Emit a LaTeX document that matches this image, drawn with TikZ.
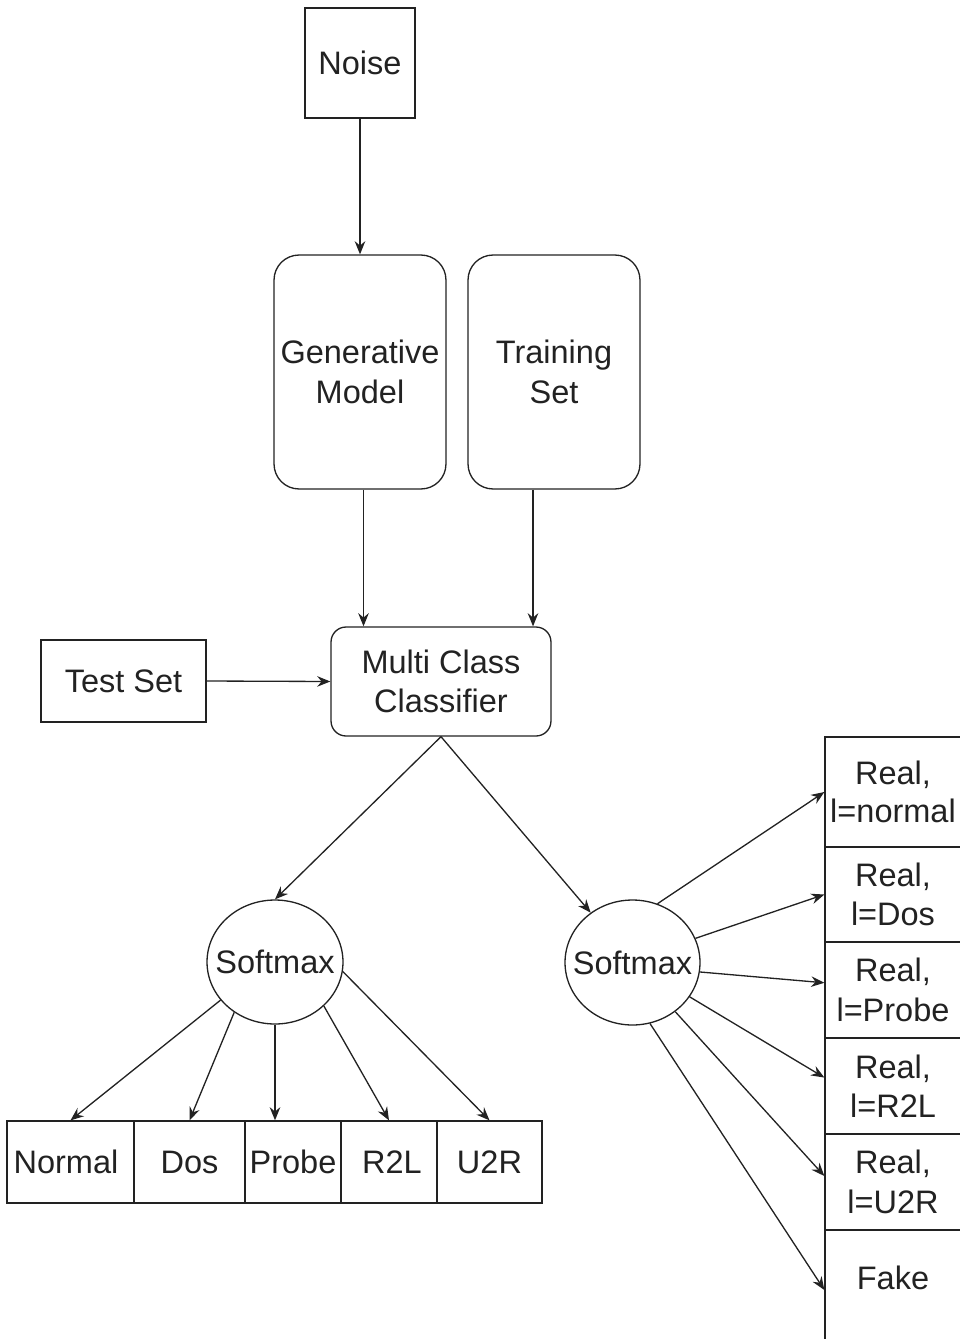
\documentclass[tikz,border=0pt]{standalone}
\usepackage{fontspec}
\setmainfont{Liberation Sans}
\usetikzlibrary{shapes.geometric,arrows.meta,calc}
\definecolor{ink}{RGB}{34,34,34}
\begin{document}
\begin{tikzpicture}[x=0.02cm,y=-0.02cm,
  every node/.style={font=\fontsize{18.5}{22.5}\selectfont, text=ink, align=center, inner sep=0pt},
  sq/.style={draw=ink, line width=0.75pt, rectangle},
  rbox/.style={draw=ink, line width=0.75pt, rectangle, rounded corners=#1},
  ell/.style={draw=ink, line width=0.75pt, ellipse, minimum width=2.72cm, minimum height=2.48cm},
  link/.style={draw=ink, line width=0.75pt, -{Stealth[length=7.5pt,width=6pt,inset=2.5pt]}}]
\useasboundingbox (0,0) rectangle (960,1339);
\clip (0,0) rectangle (960,1339);

% inputs
\node[sq, minimum width=2.2cm, minimum height=2.2cm] (noise) at (360,63) {Noise};
\node[rbox=0.5cm, minimum width=3.44cm, minimum height=4.68cm] (gm) at (360,372) {Generative\\Model};
\node[rbox=0.5cm, minimum width=3.44cm, minimum height=4.68cm] (train) at (554,372) {Training\\Set};
\node[rbox=0.3cm, minimum width=4.4cm, minimum height=2.18cm] (clf) at (441,681.5) {Multi Class\\Classifier};
\node[sq, minimum width=3.3cm, minimum height=1.64cm] (test) at (123.5,681) {Test Set};

% softmax heads
\node[ell] (sl) at (275,962) {\makebox[0pt]{Softmax}};
\node[ell, minimum width=2.7cm, minimum height=2.5cm] (sr) at (632.5,962.5) {\makebox[0pt]{Softmax}};

% class row
\node[sq, minimum width=2.54cm, minimum height=1.64cm] (n1) at (70.5,1162) {\makebox[0pt]{\hspace*{-0.18cm}Normal}};
\node[sq, minimum width=2.22cm, minimum height=1.64cm] (n2) at (189.5,1162) {Dos};
\node[sq, minimum width=1.92cm, minimum height=1.64cm] (n3) at (293,1162) {Probe};
\node[sq, minimum width=1.92cm, minimum height=1.64cm] (n4) at (389,1162) {\makebox[0pt]{\hspace*{0.12cm}R2L}};
\node[sq, minimum width=2.1cm, minimum height=1.64cm] (n5) at (489.5,1162) {U2R};

% real/fake column
\node[sq, minimum width=2.72cm, minimum height=2.2cm] (r1) at (893,792) {\raisebox{-0.1cm}{\shortstack{Real,\\[3pt]l=normal}}};
\node[sq, minimum width=2.72cm, minimum height=1.9cm] (r2) at (893,894.5) {Real,\\l=Dos};
\node[sq, minimum width=2.72cm, minimum height=1.92cm] (r3) at (893,990) {Real,\\l=Probe};
\node[sq, minimum width=2.72cm, minimum height=1.92cm] (r4) at (893,1086) {Real,\\l=R2L};
\node[sq, minimum width=2.72cm, minimum height=1.92cm] (r5) at (893,1182) {Real,\\l=U2R};
\node[sq, minimum width=2.72cm, minimum height=2.4cm] (r6) at (893,1290) {};
\node (r6text) at (893,1278) {Fake};

% connectors
\draw[link] (noise.south) -- (gm.north);
\draw[link] ([xshift=0.07cm]gm.south) -- ([xshift=0.07cm]gm.south |- clf.north);
\draw[link] ([xshift=-0.42cm]train.south) -- ([xshift=-0.42cm]train.south |- clf.north);
\draw[link] (test.east) -- (clf.west);
\draw[link] (clf.south) -- (sl.north);
\draw[link] (clf.south) -- (sr.130);

\draw[link] (sl.215) -- (n1.north);
\draw[link] (sl.231) -- (n2.north);
\draw[link] (sl.south) -- (sl.south |- n3.north);
\draw[link] (sl.318) -- (n4.north);
\draw[link] (sl.352) -- (n5.north);

\draw[link] (sr.67) -- (r1.west);
\draw[link] (sr.21) -- (r2.west);
\draw[link] (sr.352) -- (r3.174);
\draw[link] (sr.329) -- (r4.173);
\draw[link] (sr.311) -- (r5.175);
\draw[link] (sr.286) -- (r6.west);
\end{tikzpicture}
\end{document}
